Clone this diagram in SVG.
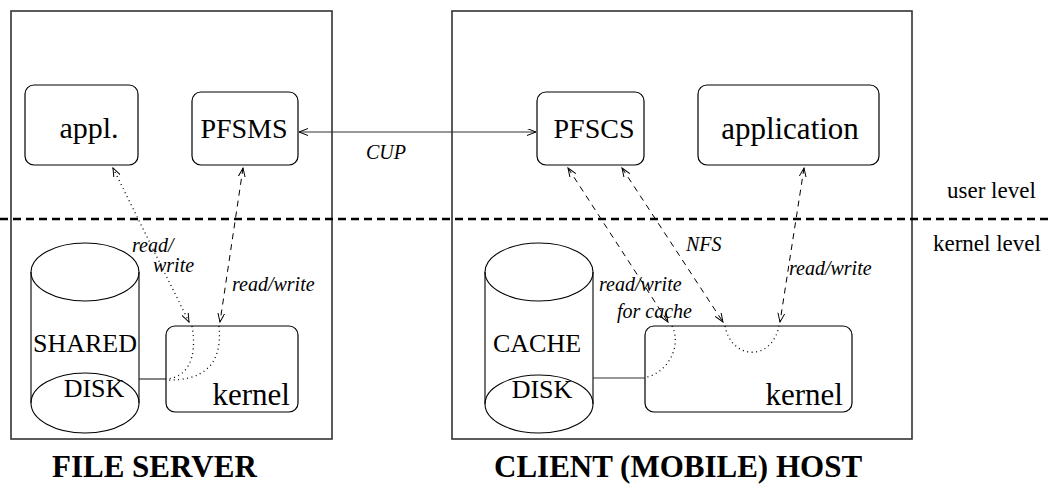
<svg xmlns="http://www.w3.org/2000/svg" width="1048" height="491" viewBox="0 0 1048 491">
<style>
.frame{fill:none;stroke:#333;stroke-width:1.6}
.box{fill:#fff;stroke:#000;stroke-width:1.2}
.cyl{fill:none;stroke:#000;stroke-width:1.1}
.nt{font-family:'Liberation Serif','Times New Roman','DejaVu Serif',serif;fill:#000}
.lbl{font-family:'Liberation Serif','Times New Roman','DejaVu Serif',serif;font-style:italic;font-size:20px;fill:#000}
.ttl{font-family:'Liberation Serif','Times New Roman','DejaVu Serif',serif;font-weight:bold;font-size:31px;fill:#000}
.solid{fill:none;stroke:#333;stroke-width:1.2}
.dash{fill:none;stroke:#000;stroke-width:1;stroke-dasharray:6 5}
.dot{fill:none;stroke:#000;stroke-width:1.3;stroke-dasharray:1 3.5}
</style>
<defs>
<marker id="ah" markerUnits="userSpaceOnUse" markerWidth="12" markerHeight="10" refX="9" refY="3.5" orient="auto-start-reverse">
<path d="M0,0 L9,3.5 L0,7" fill="none" stroke="#000" stroke-width="1" stroke-dasharray="none"/>
</marker>
</defs>

<g id="file-server">
<rect class="frame" x="11" y="11" width="321" height="428"/>
</g>
<g id="client-host">
<rect class="frame" x="452" y="11" width="460" height="428"/>
</g>

<g id="level-divider">
<line x1="0" y1="219" x2="1048" y2="219" stroke="#000" stroke-width="2.6" stroke-dasharray="8 5"/>
</g>

<g id="appl">
<rect class="box" x="25" y="85" width="113" height="80" rx="9"/>
<text class="nt" x="89" y="138" font-size="30" text-anchor="middle" font-family="Liberation Serif, serif">appl.</text>
</g>
<g id="pfsms">
<rect class="box" x="192" y="92" width="106" height="73" rx="9"/>
<text class="nt" x="244" y="138" font-size="28" text-anchor="middle">PFSMS</text>
</g>
<g id="pfscs">
<rect class="box" x="537" y="92" width="107" height="73" rx="9"/>
<text class="nt" x="594" y="138" font-size="28" text-anchor="middle">PFSCS</text>
</g>
<g id="application">
<rect class="box" x="698" y="85" width="181" height="80" rx="9"/>
<text class="nt" x="790" y="139" font-size="31" text-anchor="middle">application</text>
</g>
<g id="kernel-server">
<rect class="box" x="166" y="326" width="132" height="86" rx="9"/>
<text class="nt" x="290" y="405" font-size="31" text-anchor="end">kernel</text>
</g>
<g id="kernel-client">
<rect class="box" x="645" y="326" width="207" height="86" rx="9"/>
<text class="nt" x="843" y="405" font-size="31" text-anchor="end">kernel</text>
</g>
<g id="shared-disk">
<ellipse class="cyl" cx="85" cy="272" rx="54" ry="29"/>
<line class="cyl" x1="31" y1="272" x2="31" y2="403"/>
<line class="cyl" x1="139" y1="272" x2="139" y2="403"/>
<ellipse class="cyl" cx="85" cy="403" rx="54" ry="30"/>
<text class="nt" x="85" y="352" font-size="26" text-anchor="middle">SHARED</text>
<text class="nt" x="94" y="397" font-size="26" text-anchor="middle">DISK</text>
</g>
<g id="cache-disk">
<ellipse class="cyl" cx="539" cy="272" rx="54" ry="29"/>
<line class="cyl" x1="485" y1="272" x2="485" y2="404"/>
<line class="cyl" x1="593" y1="272" x2="593" y2="404"/>
<ellipse class="cyl" cx="539" cy="404" rx="54" ry="29"/>
<text class="nt" x="537" y="352" font-size="26" text-anchor="middle">CACHE</text>
<text class="nt" x="542" y="398" font-size="26" text-anchor="middle">DISK</text>
</g>

<g id="connectors">
<line class="solid" x1="299" y1="132" x2="536" y2="132" marker-start="url(#ah)" marker-end="url(#ah)"/>
<line class="dot" x1="113" y1="168" x2="189" y2="322" marker-start="url(#ah)" marker-end="url(#ah)"/>
<line class="dash" x1="243" y1="168" x2="220" y2="322" marker-start="url(#ah)" marker-end="url(#ah)"/>
<path class="dot" d="M192,326 C198,360 186,378 166,379"/>
<path class="dot" d="M219,326 C223,366 202,381 166,380"/>
<line class="solid" x1="139" y1="379" x2="166" y2="379"/>
<line class="solid" x1="593" y1="378" x2="645" y2="378"/>
<line class="dash" x1="568" y1="168" x2="668" y2="322" marker-start="url(#ah)" marker-end="url(#ah)"/>
<line class="dash" x1="622" y1="168" x2="723" y2="322" marker-start="url(#ah)" marker-end="url(#ah)"/>
<line class="dash" x1="804" y1="168" x2="780" y2="322" marker-start="url(#ah)" marker-end="url(#ah)"/>
<path class="dot" d="M672,326 C682,346 668,372 647,377"/>
<path class="dot" d="M725,326 C732,361 772,361 779,326"/>
</g>

<g id="labels">
<text class="lbl" x="366" y="159">CUP</text>
<text class="lbl" x="132" y="252">read/</text>
<text class="lbl" x="153" y="272">write</text>
<text class="lbl" x="232" y="291">read/write</text>
<text class="lbl" x="686" y="251">NFS</text>
<text class="lbl" x="599" y="291">read/write</text>
<text class="lbl" x="617" y="318">for cache</text>
<text class="lbl" x="789" y="275">read/write</text>
<text class="nt" x="947" y="198" font-size="23">user level</text>
<text class="nt" x="933" y="251" font-size="23">kernel level</text>
<text class="ttl" x="52" y="477">FILE SERVER</text>
<text class="ttl" x="494" y="477">CLIENT (MOBILE) HOST</text>
</g>
</svg>
